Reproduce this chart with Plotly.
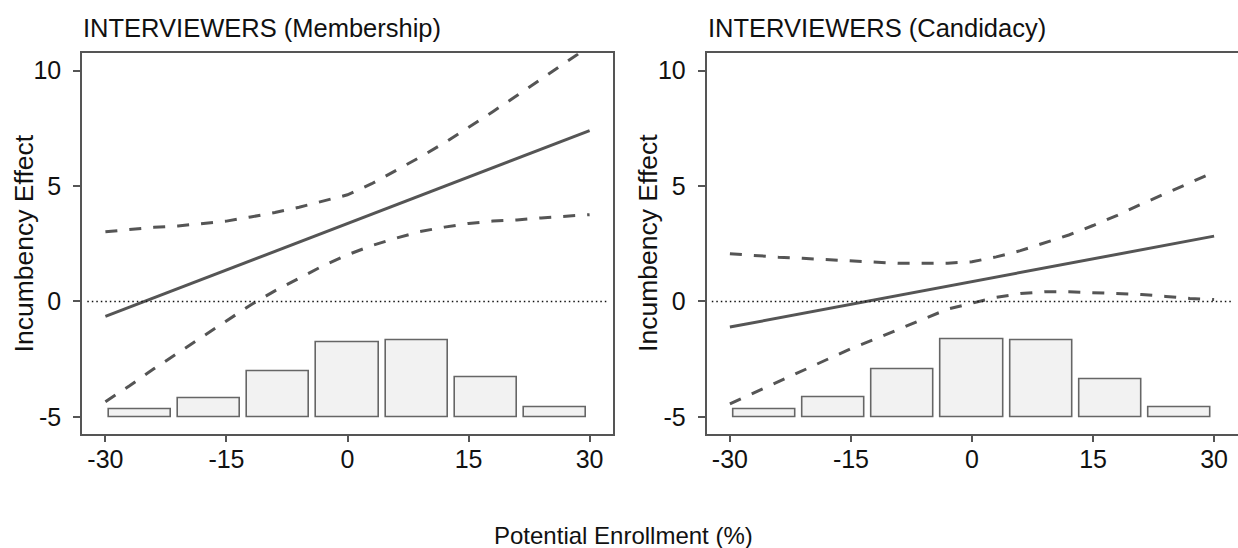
import plotly.graph_objects as go

# ---- data -------------------------------------------------------------
# potential enrollment grid (%) used for the confidence bands
enroll = [-30, -27, -24, -21, -18, -15, -12, -9, -6, -3, 0,
          3, 6, 9, 12, 15, 18, 21, 24, 27, 30]

# Membership model: marginal effect (straight line) and 95% bounds
memb_line_x = [-30, 30]
memb_line_y = [-0.65, 7.40]
memb_upper = [3.02, 3.13, 3.21, 3.27, 3.36, 3.48, 3.66, 3.85, 4.08, 4.35, 4.62,
              5.10, 5.68, 6.25, 6.87, 7.53, 8.22, 8.92, 9.65, 10.35, 11.05]
memb_lower = [-4.34, -3.65, -2.92, -2.22, -1.52, -0.83, -0.15, 0.46, 1.01, 1.55, 2.02,
              2.42, 2.74, 3.03, 3.22, 3.38, 3.48, 3.53, 3.62, 3.70, 3.76]

# Candidacy model
cand_line_x = [-30, 30]
cand_line_y = [-1.11, 2.83]
cand_upper = [2.07, 1.99, 1.92, 1.87, 1.81, 1.74, 1.68, 1.65, 1.65, 1.66, 1.72,
              1.93, 2.20, 2.53, 2.88, 3.29, 3.73, 4.22, 4.69, 5.15, 5.60]
cand_lower = [-4.44, -3.96, -3.49, -3.00, -2.53, -2.04, -1.63, -1.21, -0.76, -0.33, -0.06,
              0.18, 0.34, 0.42, 0.42, 0.39, 0.35, 0.30, 0.22, 0.13, 0.08]

# distribution of the moderator (rescaled histogram drawn from y = -5)
hist_centers = [-25.71, -17.14, -8.57, 0.0, 8.57, 17.14, 25.71]
memb_hist = [0.33, 0.81, 1.97, 3.25, 3.32, 1.71, 0.42]
cand_hist = [0.33, 0.87, 2.04, 3.37, 3.31, 1.63, 0.40]
hist_base = -5

x_ticks = [-30, -15, 0, 15, 30]
x_tick_text = ["-30", "-15", "0", "15", "30"]
y_ticks = [-5, 0, 5, 10]
y_tick_text = ["-5", "0", "5", "10"]

titles = ["INTERVIEWERS (Membership)", "INTERVIEWERS (Candidacy)"]
y_title = "Incumbency Effect"
x_title = "Potential Enrollment (%)"

# ---- styling ----------------------------------------------------------
W, H = 1238, 548
FONT = "Liberation Sans, Arial, sans-serif"
LINE_COL = "#555555"
AX_COL = "#555555"
TXT_COL = "#111111"

fig = go.Figure()

panels = [
    ("x", "y", memb_line_x, memb_line_y, memb_upper, memb_lower, memb_hist),
    ("x2", "y2", cand_line_x, cand_line_y, cand_upper, cand_lower, cand_hist),
]

for xa, ya, lx, ly, up, lo, hist in panels:
    fig.add_trace(go.Bar(
        x=hist_centers, y=hist, base=hist_base, width=7.7,
        marker=dict(color="#f2f2f2", line=dict(color="#666666", width=1.6)),
        xaxis=xa, yaxis=ya, showlegend=False, hoverinfo="skip"))
    for band in (up, lo):
        fig.add_trace(go.Scatter(
            x=enroll, y=band, mode="lines",
            line=dict(color=LINE_COL, width=3, dash="12px,12px"),
            xaxis=xa, yaxis=ya, showlegend=False, hoverinfo="skip"))
    fig.add_trace(go.Scatter(
        x=lx, y=ly, mode="lines",
        line=dict(color=LINE_COL, width=3),
        xaxis=xa, yaxis=ya, showlegend=False, hoverinfo="skip"))
    # dotted reference line at zero
    fig.add_shape(type="line", xref=f"{xa} domain", yref=ya,
                  x0=0.01, x1=0.99, y0=0, y1=0,
                  line=dict(color="#111111", width=1.5, dash="1.5px,3px"))

# panel geometry in pixels
box_left = [82, 706.5]
box_right = [613, 1237.5]
box_top, box_bottom = 53.3, 433.5

def axis_common():
    return dict(
        showline=True, mirror=True, linecolor=AX_COL, linewidth=1.5,
        ticks="outside", ticklen=7, tickwidth=1.5, tickcolor=AX_COL,
        showgrid=False, zeroline=False,
        tickfont=dict(family=FONT, size=25, color=TXT_COL),
    )

ydom = [(H - box_bottom) / H, (H - box_top) / H]
for i, (xa, ya) in enumerate([("xaxis", "yaxis"), ("xaxis2", "yaxis2")]):
    xd = [box_left[i] / W, box_right[i] / W]
    xs = dict(axis_common(), domain=xd, range=[-32.9, 32.9],
              tickvals=x_ticks, ticktext=x_tick_text, ticklabelstandoff=-4,
              anchor="y" if i == 0 else "y2")
    ys = dict(axis_common(), domain=ydom, range=[-5.72, 10.75],
              tickvals=y_ticks, ticktext=y_tick_text, ticklabelstandoff=7,
              anchor="x" if i == 0 else "x2")
    fig.layout[xa] = xs
    fig.layout[ya] = ys

annotations = []
for i in range(2):
    annotations.append(dict(
        text=titles[i], xref="paper", yref="paper",
        x=(box_left[i] - 1) / W, y=(H - 27.5) / H,
        xanchor="left", yanchor="middle", showarrow=False,
        font=dict(family=FONT, size=25.5, color=TXT_COL)))
    annotations.append(dict(
        text=y_title, xref="paper", yref="paper",
        x=(box_left[i] - 58) / W, y=(H - (box_top + box_bottom) / 2) / H,
        xanchor="center", yanchor="middle", textangle=-90, showarrow=False,
        font=dict(family=FONT, size=26.5, color=TXT_COL)))
annotations.append(dict(
    text=x_title, xref="paper", yref="paper",
    x=623 / W, y=(H - 535) / H, xanchor="center", yanchor="middle",
    showarrow=False, font=dict(family=FONT, size=24, color=TXT_COL)))

fig.update_layout(
    width=W, height=H,
    margin=dict(l=0, r=0, t=0, b=0),
    paper_bgcolor="white", plot_bgcolor="white",
    barmode="overlay", bargap=0,
    annotations=annotations,
    font=dict(family=FONT),
)

fig.write_html("out.html")
